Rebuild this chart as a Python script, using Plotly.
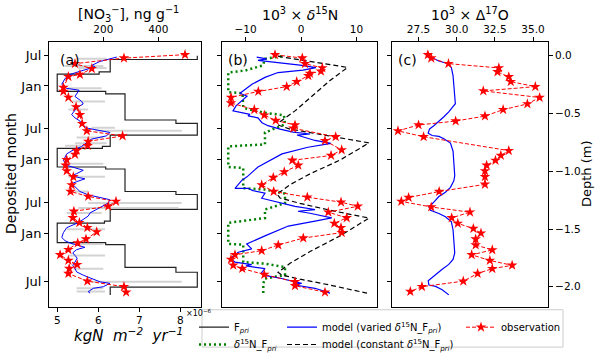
import plotly.graph_objects as go

W, H = 600, 359

# deposited month ticks (depth, m)
months = ["Jul", "Jan", "Jul", "Jan", "Jul", "Jan", "Jul"]
month_depth = [0.0, -0.261, -0.628, -0.900, -1.269, -1.542, -1.957]
depth_ticks = [0.0, -0.5, -1.0, -1.5, -2.0]

# (a) primary flux F_pri (1e-6 kgN m-2 yr-1), step tops
fpri_depth = [0.0, -0.032, -0.139, -0.159, -0.308, -0.330, -0.556, -0.585, -0.686, -0.784, -0.801,
              -0.963, -0.980, -1.175, -1.201, -1.329, -1.431, -1.448, -1.618, -1.635, -1.831,
              -1.874, -2.002, -2.070]
fpri_val = [8.41, 6.29, 6.02, 5.00, 6.18, 6.65, 7.89, 8.41, 6.29, 6.10, 5.00,
            6.18, 6.65, 7.89, 8.41, 6.29, 6.15, 5.00, 6.18, 6.65, 7.89,
            8.41, 6.29, 6.29]

# (a) nitrate observations, ng g-1
obs_a_depth = [0.01, -0.020, -0.068, -0.111, -0.162, -0.181, -0.275, -0.309, -0.360, -0.443,
               -0.511, -0.588, -0.650, -0.694, -0.741, -0.778, -0.820, -0.854, -0.900, -0.948,
               -0.997, -1.048, -1.118, -1.175, -1.218, -1.261, -1.303, -1.346, -1.403, -1.445,
               -1.488, -1.525, -1.587, -1.621, -1.678, -1.723, -1.772, -1.808, -1.842, -1.885,
               -1.951, -1.999, -2.047]
obs_a_no3 = [497, 275, 97, 158, 115, 73, 55, 55, 73, 101,
             115, 123, 140, 270, 145, 143, 103, 97, 67, 63,
             67, 91, 85, 81, 145, 246, 218, 93, 89, 113,
             142, 176, 137, 107, 73, 43, 73, 105, 76, 73,
             142, 275, 283]

# (a) modelled nitrate
mod_a_depth = [-0.011, -0.049, -0.083, -0.096, -0.134, -0.162, -0.196, -0.247, -0.281, -0.298,
               -0.352, -0.394, -0.417, -0.451, -0.509, -0.537, -0.565, -0.607, -0.628, -0.650,
               -0.664, -0.693, -0.721, -0.741, -0.764, -0.786, -0.815, -0.849, -0.877, -0.905,
               -0.948, -0.963, -0.991, -1.020, -1.039, -1.056, -1.065, -1.090, -1.107, -1.133,
               -1.175, -1.204, -1.233, -1.246, -1.275, -1.318, -1.360, -1.388, -1.417, -1.445,
               -1.488, -1.531, -1.573, -1.601, -1.621, -1.644, -1.658, -1.678, -1.706, -1.729,
               -1.752, -1.786, -1.814, -1.842, -1.871, -1.899, -1.928, -1.957, -1.970, -1.999,
               -2.013, -2.042, -2.055]
mod_a_no3 = [249, 188, 158, 170, 115, 79, 61, 49, 65, 112,
             97, 121, 127, 103, 85, 97, 115, 127, 145, 188,
             224, 212, 158, 145, 133, 121, 91, 67, 61, 55,
             67, 91, 127, 103, 85, 115, 133, 103, 85, 97,
             115, 145, 194, 224, 218, 182, 152, 145, 127, 109,
             67, 55, 49, 61, 79, 115, 133, 103, 89, 97,
             105, 97, 89, 97, 103, 127, 158, 188, 224, 200,
             164, 145, 152]

# (a) grey ranges
gray_depth = [-0.026, -0.088, -0.105, -0.281, -0.395, -0.466, -0.622, -0.650, -0.707, -0.758,
              -0.778, -0.934, -1.048, -1.175, -1.275, -1.317, -1.360, -1.502, -1.630, -1.729,
              -1.843, -1.956, -2.013, -2.041]
gray_lo = [109, 61, 109, 73, 79, 73, 158, 170, 103, 97,
           61, 61, 73, 91, 145, 109, 67, 67, 85, 73,
           91, 158, 103, 103]
gray_hi = [212, 200, 212, 194, 206, 145, 242, 485, 200, 212,
           145, 200, 206, 145, 485, 473, 194, 206, 200, 206,
           200, 485, 200, 206]

# (b) d15N observations
obs_b_depth = [0.009, -0.020, -0.068, -0.105, -0.134, -0.153, -0.173, -0.224, -0.267, -0.309,
               -0.360, -0.409, -0.466, -0.514, -0.560, -0.599, -0.628, -0.701, -0.735, -0.815,
               -0.863, -0.905, -0.948, -1.005, -1.054, -1.118, -1.175, -1.224, -1.267, -1.303,
               -1.354, -1.403, -1.451, -1.488, -1.531, -1.578, -1.638, -1.687, -1.723, -1.763,
               -1.814, -1.842, -1.894, -1.957, -1.991, -2.047]
obs_b_d15n = [-4.68, 0.23, 0.72, 3.84, 3.60, 1.62, 1.32, -0.77, -2.58, -7.69,
              -12.61, -12.61, -8.41, -6.61, -4.56, -1.08, -1.39, 6.25, 4.32, 7.33,
              5.41, -1.57, -0.49, -3.01, -4.99, -7.08, -4.92, 1.14, 7.21, 10.22,
              4.92, 8.23, 6.00, 7.21, 7.33, 0.41, -4.09, -7.08, -11.89, -12.61,
              -12.20, -10.58, -6.61, -1.08, -1.08, 4.32]

# (b) model, varied d15N_Fpri
mod_b_depth = [-0.011, -0.026, -0.040, -0.055, -0.081, -0.102, -0.124, -0.145, -0.187, -0.247,
               -0.324, -0.349, -0.434, -0.477, -0.494, -0.507, -0.520, -0.537, -0.579, -0.605,
               -0.635, -0.661, -0.677, -0.686, -0.707, -0.733, -0.758, -0.792, -0.849, -0.963,
               -1.048, -1.076, -1.147, -1.147, -1.167, -1.190, -1.233, -1.246, -1.275, -1.303,
               -1.331, -1.346, -1.363, -1.403, -1.431, -1.474, -1.559, -1.629, -1.672, -1.701,
               -1.757, -1.786, -1.808, -1.819, -1.842, -1.876, -1.899, -1.928, -1.957, -1.970,
               -1.980, -2.013, -2.055]
mod_b_d15n = [-7.98, -6.18, -7.75, -4.68, -0.18, 2.70, 0.36, -4.14, -6.49, -8.83,
              -10.99, -9.73, -11.71, -12.25, -10.45, -9.19, -9.55, -7.75, -7.03, -5.95,
              -3.78, -1.44, 1.62, -0.72, 0.72, 2.52, 5.41, 1.26, -3.42, -7.75,
              -9.73, -10.63, -11.89, -9.55, -8.65, -6.49, -7.08, -5.89, -3.78, -1.08,
              2.52, -0.54, 1.62, 5.53, 2.52, -2.29, -6.49, -9.78, -8.88, -11.30,
              -12.79, -11.89, -8.88, -9.91, -6.49, -7.08, -6.79, -3.48, -1.08, 0.13,
              -1.62, 2.52, 5.23]

# (b) model, constant d15N_Fpri
const_b_depth = [-0.004, -0.034, -0.101, -0.213, -0.366, -0.477, -0.571, -0.601, -0.635, -0.698,
                 -0.754, -0.903, -1.022, -1.116, -1.197, -1.231, -1.278, -1.337, -1.405, -1.559,
                 -1.695, -1.797, -1.874, -1.899, -1.934, -1.985, -2.055]
const_b_d15n = [-4.14, -0.18, 8.38, 5.23, 1.62, -1.08, -3.78, -4.05, -1.98, 5.23,
                12.25, 7.03, 1.62, -1.98, -4.32, -3.78, -0.18, 5.23, 12.25, 7.03,
                1.62, -1.98, -4.14, -3.42, -0.18, 5.23, 11.89]

# (b) d15N of primary flux
fpri_b_depth = [-0.003, -0.026, -0.083, -0.128, -0.145, -0.315, -0.324, -0.451, -0.494, -0.515,
                -0.594, -0.664, -0.767, -0.784, -0.963, -0.971, -1.146, -1.158, -1.193, -1.275,
                -1.331, -1.405, -1.446, -1.629, -1.635, -1.786, -1.800, -1.829, -1.899, -1.928,
                -1.970, -2.055]
fpri_b_d15n = [-3.48, -6.49, -6.85, -10.09, -13.10, -13.10, -10.54, -10.40, -6.49, -3.06,
               -2.88, -6.49, -6.49, -13.10, -13.10, -10.40, -10.40, -6.49, -2.88, -2.88,
               -6.49, -6.49, -13.10, -13.10, -10.40, -10.40, -6.49, -2.88, -2.88, -6.49,
               -6.79, -6.79]

# (c) D17O observations
obs_c_depth = [0.009, -0.020, -0.068, -0.105, -0.139, -0.182, -0.224, -0.267, -0.304, -0.361,
               -0.417, -0.466, -0.522, -0.565, -0.599, -0.650, -0.701, -0.821, -0.863, -0.906,
               -0.948, -0.997, -1.048, -1.113, -1.175, -1.227, -1.261, -1.309, -1.354, -1.403,
               -1.451, -1.496, -1.536, -1.587, -1.638, -1.681, -1.723, -1.772, -1.814, -1.843,
               -1.885, -1.951, -1.999, -2.041]
obs_c_d17o = [28.11, 28.33, 29.46, 32.76, 32.67, 33.41, 33.54, 35.15, 31.74, 35.43,
              34.63, 33.04, 31.85, 29.93, 27.50, 26.15, 27.83, 33.41, 32.89, 32.54,
              31.96, 31.85, 31.85, 31.85, 28.85, 26.85, 26.37, 28.33, 30.87, 29.67,
              30.07, 31.09, 31.59, 31.24, 31.24, 32.33, 30.98, 32.17, 33.63, 32.33,
              31.37, 30.43, 27.72, 26.96]

# (c) model
mod_c_depth = [0.003, -0.017, -0.045, -0.066, -0.102, -0.173, -0.258, -0.343, -0.415, -0.443,
               -0.486, -0.528, -0.571, -0.605, -0.633, -0.670, -0.690, -0.698, -0.718, -0.756,
               -0.826, -0.940, -1.039, -1.082, -1.139, -1.181, -1.218, -1.267, -1.309, -1.337,
               -1.365, -1.394, -1.437, -1.508, -1.593, -1.706, -1.763, -1.806, -1.848, -1.905,
               -1.948, -1.985, -1.996, -2.025, -2.070]
mod_c_d17o = [28.07, 28.39, 28.83, 29.37, 29.65, 29.76, 29.81, 29.85, 29.91, 29.74,
              29.48, 29.16, 28.83, 28.50, 28.22, 28.13, 28.39, 28.83, 29.16, 29.59,
              29.76, 29.81, 29.87, 29.81, 29.59, 29.26, 28.83, 28.50, 28.18, 28.28,
              28.83, 29.26, 29.65, 29.76, 29.81, 29.87, 29.76, 29.48, 29.05, 28.50,
              28.13, 28.18, 28.61, 29.05, 29.48]

YR = [-2.173, 0.117]
FONT = "DejaVu Sans"


def px(x):
    return x / W


def py(y):
    return 1 - y / H


red = dict(color="red", width=1, dash="4px,2px")
star = dict(symbol="star", size=8, color="red")

fig = go.Figure()

# panel a
gx, gy = [], []
for lo, hi, d in zip(gray_lo, gray_hi, gray_depth):
    gx += [lo, hi, None]
    gy += [d, d, None]
fig.add_trace(go.Scatter(x=fpri_val, y=fpri_depth, mode="lines", line_shape="vh",
                         line=dict(color="#222222", width=1.2), name="F<sub><i>pri</i></sub>",
                         legend="legend", xaxis="x", yaxis="y"))
fig.add_trace(go.Scatter(x=gx, y=gy, mode="lines", line=dict(color="rgba(200,200,200,0.8)", width=2),
                         showlegend=False, xaxis="x4", yaxis="y"))
fig.add_trace(go.Scatter(x=mod_a_no3, y=mod_a_depth, mode="lines", line=dict(color="blue", width=1),
                         showlegend=False, xaxis="x4", yaxis="y"))
fig.add_trace(go.Scatter(x=obs_a_no3, y=obs_a_depth, mode="lines+markers", line=red, marker=star,
                         showlegend=False, xaxis="x4", yaxis="y"))

# panel b
fig.add_trace(go.Scatter(x=fpri_b_d15n, y=fpri_b_depth, mode="lines",
                         line=dict(color="green", width=2.5, dash="2px,3px"),
                         name="<i>δ</i><sup>15</sup>N_F<sub><i>pri</i></sub>", legend="legend2",
                         xaxis="x2", yaxis="y2"))
fig.add_trace(go.Scatter(x=const_b_d15n, y=const_b_depth, mode="lines",
                         line=dict(color="black", width=1.2, dash="5px,3px"),
                         name="model (constant <i>δ</i><sup>15</sup>N_F<sub><i>pri</i></sub>)",
                         legend="legend4", xaxis="x2", yaxis="y2"))
fig.add_trace(go.Scatter(x=mod_b_d15n, y=mod_b_depth, mode="lines", line=dict(color="blue", width=1.2),
                         name="model (varied <i>δ</i><sup>15</sup>N_F<sub><i>pri</i></sub>)",
                         legend="legend3", xaxis="x2", yaxis="y2"))
fig.add_trace(go.Scatter(x=obs_b_d15n, y=obs_b_depth, mode="lines+markers", line=red, marker=star,
                         name="observation", legend="legend5", xaxis="x2", yaxis="y2"))

# panel c
fig.add_trace(go.Scatter(x=mod_c_d17o, y=mod_c_depth, mode="lines", line=dict(color="blue", width=1.2),
                         showlegend=False, xaxis="x3", yaxis="y3"))
fig.add_trace(go.Scatter(x=obs_c_d17o, y=obs_c_depth, mode="lines+markers", line=red, marker=star,
                         showlegend=False, xaxis="x3", yaxis="y3"))
fig.add_trace(go.Scatter(x=[None], y=[None], showlegend=False, xaxis="x3", yaxis="y4"))

ydom = [py(312), py(43)]
ax = dict(showline=True, linecolor="black", linewidth=1, ticks="outside", ticklen=4,
          tickcolor="black", showgrid=False, zeroline=False,
          tickfont=dict(family=FONT, size=10.5, color="black"))


def leg(x, y):
    return dict(x=px(x), y=py(y), xanchor="left", yanchor="top", bgcolor="rgba(0,0,0,0)",
                font=dict(family=FONT, size=10, color="black"), itemwidth=30)


fig.update_layout(
    width=W, height=H, margin=dict(l=0, r=0, t=0, b=0),
    paper_bgcolor="white", plot_bgcolor="white", hovermode=False,
    font=dict(family=FONT, color="black"),
    xaxis=dict(ax, domain=[px(49), px(201)], anchor="y", side="bottom", range=[4.80, 8.50],
               tickvals=[5, 6, 7, 8]),
    xaxis4=dict(ax, overlaying="x", anchor="y", side="top", range=[2.6, 555], tickvals=[200, 400]),
    yaxis=dict(ax, domain=ydom, anchor="x", range=YR, tickvals=month_depth, ticktext=months,
               mirror=True, tickfont=dict(family=FONT, size=13, color="black")),
    xaxis2=dict(ax, domain=[px(222), px(377)], anchor="y2", side="top", range=[-14.23, 13.69],
                tickvals=[-10, 0, 10], mirror=True),
    yaxis2=dict(ax, domain=ydom, anchor="x2", range=YR, tickvals=month_depth, showticklabels=False,
                mirror=True),
    xaxis3=dict(ax, domain=[px(392), px(548)], anchor="y3", side="top", range=[25.76, 35.98],
                tickvals=[27.5, 30, 32.5, 35], tickformat=".1f", mirror=True),
    yaxis3=dict(ax, domain=ydom, anchor="x3", range=YR, tickvals=month_depth, showticklabels=False,
                mirror=True),
    yaxis4=dict(ax, overlaying="y3", anchor="x3", side="right", range=YR, tickvals=depth_ticks,
                tickformat=".1f"),
    legend=leg(194, 318),
    legend2=leg(194, 336),
    legend3=leg(282, 318),
    legend4=leg(282, 336),
    legend5=leg(461, 318),
)

fig.add_shape(type="rect", xref="paper", yref="paper", x0=px(202), x1=px(563), y0=py(353), y1=py(315),
              line=dict(color="#cccccc", width=1), fillcolor="rgba(255,255,255,0.8)", layer="below")

notes = [
    ("(a)", 58, 61, "left", 14, 0),
    ("(b)", 226, 61, "left", 14, 0),
    ("(c)", 396, 61, "left", 14, 0),
    ("[NO<sub>3</sub><sup>−</sup>], ng g<sup>−1</sup>", 128, 14, "center", 14, 0),
    ("10<sup>3</sup> × <i>δ</i><sup>15</sup>N", 300, 14, "center", 14, 0),
    ("10<sup>3</sup> × Δ<sup>17</sup>O", 470, 14, "center", 14, 0),
    ("Deposited month", 11, 177, "center", 14, -90),
    ("Depth (m)", 586, 177, "center", 13, -90),
    ("<i>kgN  m<sup>−2</sup>  yr<sup>−1</sup></i>", 128, 341, "center", 15, 0),
    ("×10<sup>−6</sup>", 184, 318, "left", 8, 0),
]
for t, x, y, xa, s, ang in notes:
    fig.add_annotation(text=t, x=px(x), y=py(y), xref="paper", yref="paper", xanchor=xa,
                       yanchor="middle", showarrow=False, textangle=ang,
                       font=dict(family=FONT, size=s, color="black"))

fig.write_html("out.html", config={"staticPlot": True},
               post_script="document.body.style.margin='0px';")
